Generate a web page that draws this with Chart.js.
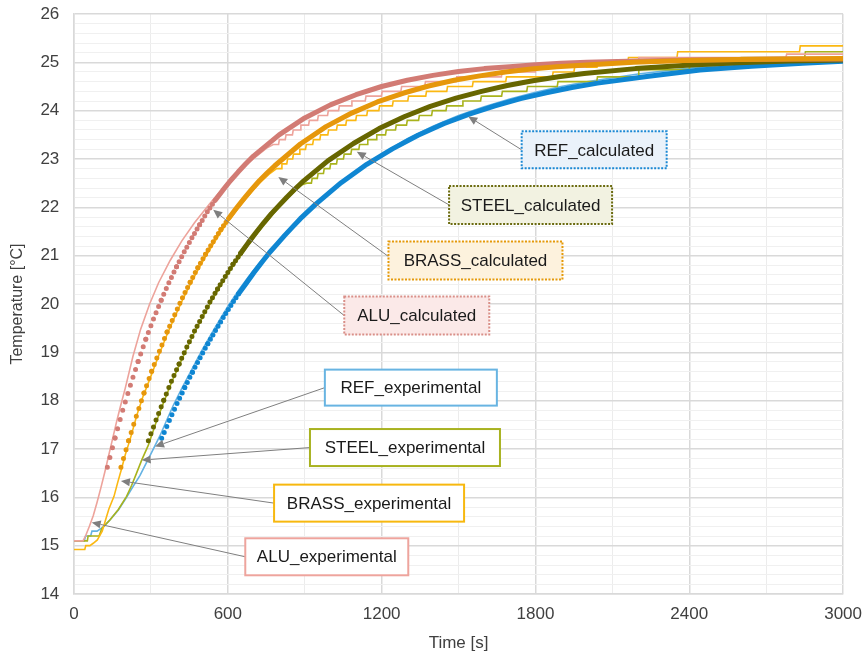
<!DOCTYPE html>
<html>
<head>
<meta charset="utf-8">
<script src="https://cdn.jsdelivr.net/npm/chart.js@4/dist/chart.umd.min.js"></script>
<style>
  body { margin: 0; background: #ffffff; }
  .chart_container { width: 866px; height: 656px; }
</style>
</head>
<body>
<div class="chart_container"><canvas id="temp_chart"></canvas></div>
<script>
// calculated curves (time in s, temperature in °C)
const aluCalcTime = [130, 160, 190, 220, 250, 280, 310, 340, 370, 400, 430, 460, 490, 520, 550, 580, 610, 640, 670, 700,
  800, 900, 1000, 1100, 1200, 1300, 1400, 1500, 1600, 1700, 1800, 1900, 2000, 2200, 2400, 2600, 2800, 3000];
const aluCalcTemp = [16.62, 17.23, 17.80, 18.32, 18.81, 19.27, 19.69, 20.08, 20.44, 20.77, 21.08, 21.37, 21.64, 21.91, 22.14, 22.35, 22.55, 22.73, 22.90, 23.06,
  23.50, 23.85, 24.12, 24.33, 24.50, 24.63, 24.73, 24.81, 24.87, 24.91, 24.95, 24.98, 25.00, 25.03, 25.05, 25.06, 25.07, 25.07];

const brassCalcTime = [183, 213, 243, 273, 303, 333, 363, 393, 423, 453, 483, 513, 543, 573, 603, 633, 663, 693, 723, 753, 783,
  883, 983, 1083, 1183, 1283, 1383, 1483, 1583, 1683, 1783, 1883, 1983, 2183, 2383, 2583, 2783, 3000];
const brassCalcTemp = [16.62, 17.17, 17.68, 18.16, 18.61, 19.02, 19.42, 19.78, 20.13, 20.45, 20.75, 21.03, 21.29, 21.54, 21.77, 21.98, 22.18, 22.37, 22.55, 22.71, 22.86,
  23.31, 23.67, 23.95, 24.18, 24.36, 24.51, 24.63, 24.72, 24.80, 24.86, 24.91, 24.94, 25.00, 25.04, 25.06, 25.07, 25.08];

const steelCalcTime = [290, 320, 350, 380, 410, 440, 470, 500, 530, 560, 590, 620, 650, 680, 710, 740, 770, 800, 830, 860, 890,
  990, 1090, 1190, 1290, 1390, 1490, 1590, 1690, 1790, 1890, 1990, 2190, 2390, 2590, 2790, 3000];
const steelCalcTemp = [17.17, 17.60, 18.01, 18.40, 18.76, 19.11, 19.44, 19.74, 20.04, 20.31, 20.57, 20.82, 21.05, 21.27, 21.48, 21.68, 21.87, 22.04, 22.21, 22.37, 22.52,
  22.96, 23.32, 23.63, 23.88, 24.09, 24.26, 24.40, 24.52, 24.62, 24.70, 24.77, 24.87, 24.94, 24.99, 25.03, 25.05];

const refCalcTime = [342, 372, 402, 432, 462, 492, 522, 552, 582, 612, 642, 672, 702, 732, 762, 792, 822, 852, 882, 912, 942,
  1042, 1142, 1242, 1342, 1442, 1542, 1642, 1742, 1842, 1942, 2042, 2242, 2442, 2642, 2842, 3000];
const refCalcTemp = [17.22, 17.59, 17.94, 18.27, 18.59, 18.89, 19.18, 19.45, 19.72, 19.97, 20.21, 20.43, 20.65, 20.86, 21.06, 21.24, 21.42, 21.59, 21.76, 21.91, 22.06,
  22.51, 22.89, 23.21, 23.49, 23.73, 23.93, 24.10, 24.25, 24.37, 24.48, 24.57, 24.71, 24.84, 24.92, 24.98, 25.02];

// experimental curves (sensor readings, stepped)
const aluExpTime = [0, 35, 45, 60, 75, 90, 105, 120, 135, 150, 165, 180, 200, 230, 260, 295, 330, 375, 420, 470,
  530, 600, 680, 750, 777, 798, 801, 824, 827, 852, 855, 882, 885, 915, 918, 950, 953, 989, 992, 1032,
  1035, 1081, 1084, 1136, 1139, 1199, 1202, 1275, 1278, 1368, 1371, 1490, 1493, 1667, 1670, 1800, 1803, 1990, 1993, 2200,
  2203, 2777, 2780, 3000];
const aluExpTemp = [15.1, 15.1, 15.2, 15.4, 15.62, 15.9, 16.2, 16.52, 16.86, 17.2, 17.54, 17.86, 18.26, 18.92, 19.48, 20.0, 20.44, 20.9, 21.3, 21.68,
  22.08, 22.52, 22.92, 23.22, 23.3, 23.3, 23.4, 23.4, 23.5, 23.5, 23.6, 23.6, 23.7, 23.7, 23.8, 23.8, 23.9, 23.9, 24.0, 24.0,
  24.1, 24.1, 24.2, 24.2, 24.3, 24.3, 24.4, 24.4, 24.5, 24.5, 24.6, 24.6, 24.7, 24.7, 24.8, 24.8, 24.9, 24.9, 25.0, 25.0,
  25.1, 25.1, 25.17, 25.17];

const brassExpTime = [0, 42, 46, 62, 75, 91, 110, 123, 136, 156, 170, 185, 200, 220, 245, 270, 296, 333, 363, 393,
  423, 453, 483, 513, 543, 573, 603, 633, 663, 693, 723, 760, 790, 808, 811, 830, 833, 853, 856, 878,
  881, 903, 906, 931, 934, 959, 962, 990, 993, 1024, 1027, 1060, 1063, 1099, 1102, 1142, 1145, 1189, 1192, 1242,
  1245, 1302, 1305, 1372, 1375, 1454, 1457, 1554, 1557, 1684, 1687, 1866, 1869, 1950, 1953, 2040, 2043, 2160, 2163, 2352,
  2355, 2830, 2833, 3000];
const brassExpTemp = [14.92, 14.92, 15.0, 15.0, 15.05, 15.12, 15.3, 15.53, 15.76, 16.02, 16.3, 16.58, 16.88, 17.22, 17.7, 18.1, 18.45, 18.97, 19.37, 19.73,
  20.08, 20.4, 20.7, 20.98, 21.24, 21.49, 21.72, 21.93, 22.13, 22.32, 22.5, 22.68, 22.8, 22.8, 22.9, 22.9, 23.0, 23.0, 23.1, 23.1,
  23.2, 23.2, 23.3, 23.3, 23.4, 23.4, 23.5, 23.5, 23.6, 23.6, 23.7, 23.7, 23.8, 23.8, 23.9, 23.9, 24.0, 24.0, 24.1, 24.1,
  24.2, 24.2, 24.3, 24.3, 24.4, 24.4, 24.5, 24.5, 24.6, 24.6, 24.7, 24.7, 24.8, 24.8, 24.9, 24.9, 25.0, 25.0, 25.1, 25.1,
  25.22, 25.22, 25.34, 25.34];

const steelExpTime = [0, 52, 55, 98, 108, 140, 173, 205, 225, 244, 264, 290, 320, 350, 380, 410, 440, 470, 500, 530,
  560, 590, 620, 650, 680, 710, 740, 770, 800, 830, 860, 890, 908, 926, 929, 949, 952, 973, 976, 998,
  1001, 1024, 1027, 1051, 1054, 1080, 1083, 1111, 1114, 1143, 1146, 1178, 1181, 1215, 1218, 1254, 1257, 1297, 1300, 1344,
  1347, 1395, 1398, 1451, 1454, 1514, 1517, 1586, 1589, 1668, 1671, 1766, 1769, 1885, 1888, 2039, 2042, 2200, 2203, 2400,
  2403, 2600, 2603, 2850, 2853, 3000];
const steelExpTemp = [15.1, 15.1, 15.2, 15.2, 15.35, 15.53, 15.75, 16.02, 16.25, 16.5, 16.77, 17.08, 17.55, 17.97, 18.37, 18.73, 19.08, 19.41, 19.71, 20.0,
  20.27, 20.53, 20.78, 21.0, 21.22, 21.43, 21.63, 21.82, 22.0, 22.17, 22.33, 22.47, 22.5, 22.5, 22.6, 22.6, 22.7, 22.7, 22.8, 22.8,
  22.9, 22.9, 23.0, 23.0, 23.1, 23.1, 23.2, 23.2, 23.3, 23.3, 23.4, 23.4, 23.5, 23.5, 23.6, 23.6, 23.7, 23.7, 23.8, 23.8,
  23.9, 23.9, 24.0, 24.0, 24.1, 24.1, 24.2, 24.2, 24.3, 24.3, 24.4, 24.4, 24.5, 24.5, 24.6, 24.6, 24.7, 24.7, 24.85, 24.85,
  25.0, 25.0, 25.1, 25.1, 25.22, 25.22];

const refExpTime = [0, 40, 45, 65, 70, 90, 114, 140, 173, 205, 230, 257, 296, 335, 362, 387, 420, 440, 470, 500,
  530, 560, 600, 640, 680, 720, 760, 800, 850, 900, 950, 1000, 1050, 1100, 1150, 1200, 1300, 1400, 1500, 1600,
  1700, 1800, 1900, 2000, 2200, 2400, 2600, 2800, 3000];
const refExpTemp = [15.1, 15.1, 15.2, 15.2, 15.3, 15.3, 15.39, 15.53, 15.74, 16.0, 16.22, 16.45, 16.86, 17.27, 17.6, 17.9, 18.25, 18.45, 18.75, 19.05,
  19.33, 19.6, 19.95, 20.27, 20.56, 20.83, 21.08, 21.32, 21.6, 21.86, 22.1, 22.32, 22.55, 22.75, 22.93, 23.1, 23.42, 23.68, 23.9, 24.08,
  24.24, 24.38, 24.5, 24.6, 24.76, 24.88, 24.96, 25.02, 25.06];

const xTicks = [0, 600, 1200, 1800, 2400, 3000];

const fontFamily = '"Liberation Sans", Arial, sans-serif';
const axisColor = "#404040";

// callout boxes: centre and arrow tip in chart units
const callouts = [
  { text: "REF_calculated", t: 2029, temp: 23.19, w: 145, h: 37, tipT: 1538, tipTemp: 23.88, border: "#1a88d4", fill: "#eaf2fa", dotted: true },
  { text: "STEEL_calculated", t: 1781, temp: 22.05, w: 163, h: 38, tipT: 1103, tipTemp: 23.15, border: "#6b6b10", fill: "#f2f2e1", dotted: true },
  { text: "BRASS_calculated", t: 1566, temp: 20.9, w: 174, h: 38, tipT: 797, tipTemp: 22.63, border: "#e59a0a", fill: "#fdf2dd", dotted: true, dy: -4 },
  { text: "ALU_calculated", t: 1337, temp: 19.76, w: 145, h: 38, tipT: 543, tipTemp: 21.95, border: "#d98f88", fill: "#fbe9e8", dotted: true },
  { text: "REF_experimental", t: 1314, temp: 18.27, w: 172, h: 36, tipT: 316, tipTemp: 17.05, border: "#68b4e2", fill: "#ffffff" },
  { text: "STEEL_experimental", t: 1291, temp: 17.03, w: 190, h: 37, tipT: 264, tipTemp: 16.77, border: "#a8b220", fill: "#ffffff" },
  { text: "BRASS_experimental", t: 1151, temp: 15.88, w: 190, h: 37, tipT: 183, tipTemp: 16.34, border: "#f7b80f", fill: "#ffffff" },
  { text: "ALU_experimental", t: 986, temp: 14.77, w: 163, h: 37, tipT: 69, tipTemp: 15.48, border: "#eea49d", fill: "#ffffff" },
];

const toPoints = (times, temps) => times.map((t, i) => ({ x: t, y: temps[i] }));

// calculated series are sampled every 10 s: draw a round dot per sample
const dotSegments = {
  borderDash: (ctx) => {
    const dx = ctx.p1.x - ctx.p0.x;
    const dy = ctx.p1.y - ctx.p0.y;
    const steps = (ctx.p1.parsed.x - ctx.p0.parsed.x) / 10;
    const gap = Math.hypot(dx, dy) / steps;
    return gap > 4.5 ? [0, gap] : undefined;
  },
};

const calcSet = (label, times, temps, color) => ({
  label: label,
  data: toPoints(times, temps),
  borderColor: color,
  backgroundColor: color,
  borderWidth: 5,
  borderCapStyle: "round",
  borderJoinStyle: "round",
  pointRadius: 0,
  segment: dotSegments,
});

const expSet = (label, times, temps, color) => ({
  label: label,
  data: toPoints(times, temps),
  borderColor: color,
  backgroundColor: color,
  borderWidth: 1.6,
  pointRadius: 0,
});

const isMajor = (v, step) => Math.abs(v / step - Math.round(v / step)) < 1e-6;

const calloutPlugin = {
  id: "callouts",
  afterDatasetsDraw(chart) {
    const { ctx } = chart;
    const x = chart.scales.x;
    const y = chart.scales.y;
    ctx.save();
    callouts.forEach((b) => {
      const cx = x.getPixelForValue(b.t);
      const cy = y.getPixelForValue(b.temp);
      const left = cx - b.w / 2;
      const top = cy - b.h / 2;
      const sx = left;
      const sy = cy + (b.dy || 0);
      const tx = x.getPixelForValue(b.tipT);
      const ty = y.getPixelForValue(b.tipTemp);

      //arrow
      const ang = Math.atan2(ty - sy, tx - sx);
      const headLen = 9;
      const headW = 4;
      const bx = tx - headLen * Math.cos(ang);
      const by = ty - headLen * Math.sin(ang);
      ctx.setLineDash([]);
      ctx.strokeStyle = "#7f7f7f";
      ctx.lineWidth = 1;
      ctx.beginPath();
      ctx.moveTo(sx, sy);
      ctx.lineTo(bx, by);
      ctx.stroke();
      ctx.fillStyle = "#7f7f7f";
      ctx.beginPath();
      ctx.moveTo(tx, ty);
      ctx.lineTo(bx + headW * Math.sin(ang), by - headW * Math.cos(ang));
      ctx.lineTo(bx - headW * Math.sin(ang), by + headW * Math.cos(ang));
      ctx.closePath();
      ctx.fill();

      //box
      ctx.fillStyle = b.fill;
      ctx.fillRect(left, top, b.w, b.h);
      ctx.strokeStyle = b.border;
      ctx.lineWidth = 2;
      ctx.setLineDash(b.dotted ? [2, 1.5] : []);
      ctx.strokeRect(left, top, b.w, b.h);
      ctx.setLineDash([]);

      ctx.fillStyle = "#1a1a1a";
      ctx.font = `17px ${fontFamily}`;
      ctx.textAlign = "center";
      ctx.textBaseline = "middle";
      ctx.fillText(b.text, cx, cy + 1);
    });
    ctx.restore();
  },
};

Chart.defaults.font.family = fontFamily;

const ctx = document.getElementById("temp_chart").getContext("2d");
new Chart(ctx, {
  type: "line",
  data: {
    datasets: [
      calcSet("BRASS_calculated", brassCalcTime, brassCalcTemp, "#e6970b"),
      calcSet("ALU_calculated", aluCalcTime, aluCalcTemp, "#d27b74"),
      calcSet("STEEL_calculated", steelCalcTime, steelCalcTemp, "#676600"),
      calcSet("REF_calculated", refCalcTime, refCalcTemp, "#0f86d2"),
      expSet("ALU_experimental", aluExpTime, aluExpTemp, "#eda39b"),
      expSet("BRASS_experimental", brassExpTime, brassExpTemp, "#fbb812"),
      expSet("STEEL_experimental", steelExpTime, steelExpTemp, "#a9b31c"),
      expSet("REF_experimental", refExpTime, refExpTemp, "#64b2e3"),
    ],
  },
  options: {
    responsive: true,
    maintainAspectRatio: false,
    animation: false,
    layout: { padding: 0 },
    plugins: {
      legend: { display: false },
      tooltip: { enabled: false },
    },
    scales: {
      x: {
        type: "linear",
        min: 0,
        max: 3000,
        ticks: {
          stepSize: 300,
          autoSkip: false,
          maxRotation: 0,
          padding: 4,
          color: axisColor,
          font: { size: 17 },
          callback: (v) => (xTicks.includes(v) ? String(v) : ""),
        },
        grid: {
          drawTicks: true,
          tickLength: 5.8,
          tickColor: "rgba(0,0,0,0)",
          color: (c) => (isMajor(c.tick.value, 600) ? "#d9d9d9" : "#ececec"),
          lineWidth: (c) => (isMajor(c.tick.value, 600) ? 1.5 : 1),
        },
        border: { color: "#d9d9d9", width: 1.5 },
        title: {
          display: true,
          text: "Time [s]",
          color: axisColor,
          font: { size: 17 },
          padding: { top: 4.6, bottom: 2.8 },
        },
      },
      y: {
        min: 14,
        max: 26,
        ticks: {
          stepSize: 0.2,
          autoSkip: false,
          padding: 3.8,
          color: axisColor,
          font: { size: 17 },
          callback: (v) => (isMajor(v, 1) ? String(Math.round(v)) : ""),
        },
        grid: {
          drawTicks: true,
          tickLength: 10.9,
          tickColor: "rgba(0,0,0,0)",
          color: (c) => (isMajor(c.tick.value, 1) ? "#d9d9d9" : "#f0f0f0"),
          lineWidth: (c) => (isMajor(c.tick.value, 1) ? 1.5 : 1),
        },
        border: { color: "#d9d9d9", width: 1.5 },
        title: {
          display: true,
          text: "Temperature [°C]",
          color: axisColor,
          font: { size: 16 },
          padding: { top: 8.4, bottom: 9.0 },
        },
      },
    },
  },
  plugins: [calloutPlugin],
});
</script>
</body>
</html>
